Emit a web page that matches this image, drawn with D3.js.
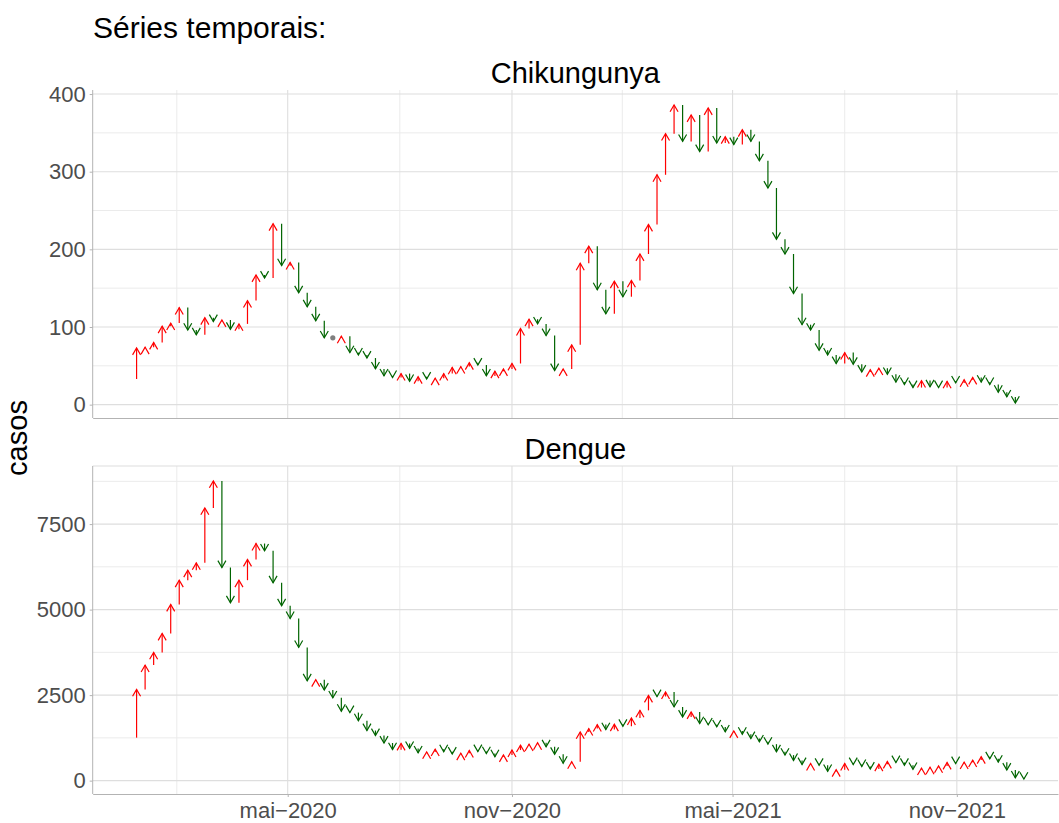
<!DOCTYPE html>
<meta charset="utf-8">
<style>
    body { margin:0; background:#fff; }
    svg text { font-family:'Liberation Sans', Arial, Helvetica, sans-serif; }
</style>
<body>
<script src="https://cdn.jsdelivr.net/npm/d3@7"></script>
<script>
// weekly case counts, first value is the week before the first arrow
var chikungunya = [33,
  73, 74, 80, 101, 105, 125, 96, 90, 112, 107,
  109, 97, 104, 134, 167, 163, 233, 179, 183, 144,
  126, 108, 86, 86, 88, 67, 64, 60, 46, 37,
  35, 40, 30, 36, 33, 34, 40, 48, 49, 54,
  51, 37, 43, 46, 53, 98, 110, 104, 89, 44,
  46, 77, 182, 204, 148, 117, 159, 139, 160, 194,
  232, 296, 349, 386, 339, 373, 326, 382, 337, 345,
  335, 354, 339, 314, 279, 213, 194, 143, 103, 96,
  70, 64, 53, 67, 52, 42, 45, 47, 39, 29,
  26, 22, 31, 23, 22, 30, 28, 32, 35, 29,
  26, 16, 10, 2];

var dengue = [1256,
  2667, 3378, 3748, 4303, 5150, 5860, 6152, 6367, 7973, 8762,
  6230, 5199, 5860, 6464, 6931, 6717, 5783, 5111, 4741, 3894,
  2920, 2950, 2648, 2420, 2030, 1990, 1752, 1465, 1320, 1100,
  905, 1086, 942, 810, 840, 920, 846, 779, 800, 880,
  850, 790, 700, 750, 894, 1038, 1067, 1106, 990, 769,
  510, 550, 1424, 1521, 1638, 1492, 1650, 1590, 1830, 2054,
  2490, 2460, 2590, 2155, 1860, 2006, 1667, 1630, 1570, 1424,
  1453, 1357, 1230, 1134, 1066, 843, 746, 590, 470, 500,
  450, 270, 320, 500, 470, 415, 340, 480, 560, 530,
  450, 330, 365, 390, 430, 530, 500, 540, 600, 700,
  640, 540, 310, 80, 45];

var firstWeek = Date.UTC(2019, 11, 22);   // week of the leading value
var xTickDates = [Date.UTC(2020,4,1), Date.UTC(2020,10,1), Date.UTC(2021,4,1), Date.UTC(2021,10,1)];
var xTickLabels = ["mai\u22122020", "nov\u22122020", "mai\u22122021", "nov\u22122021"];
var chikTicks = [0, 100, 200, 300, 400];
var chikMinor = [50, 150, 250, 350];
var dengTicks = [0, 2500, 5000, 7500];
var dengMinor = [1250, 3750, 6250, 8750];

var width = 1059, height = 823;
var left = 92.7, right = 1058;
var day = 864e5;

var svg = d3.select("body").append("svg")
    .attr("width", width)
    .attr("height", height);

var x = d3.scaleUtc()
    .domain([new Date(Date.UTC(2019,10,23)), new Date(Date.UTC(2022,0,23))])
    .range([left, right]);

// minor breaks halfway between the major ones
var allMajor = [Date.UTC(2019,10,1)].concat(xTickDates, [Date.UTC(2022,4,1)]);
var xMinor = d3.pairs(allMajor).map(function(p) { return (p[0] + p[1]) / 2; })
    .filter(function(t) { var px = x(new Date(t)); return px > left && px < right; });

svg.append("text")
    .attr("x", 93).attr("y", 38)
    .style("font-size", "30px").style("fill", "#000")
    .text("Séries temporais:");

svg.append("text")
    .attr("transform", "translate(27,438) rotate(-90)")
    .attr("text-anchor", "middle")
    .style("font-size", "29px").style("fill", "#000")
    .text("casos");

var panels = [
  {name: "Chikungunya", values: chikungunya, top: 90, bottom: 418, ticks: chikTicks, minor: chikMinor, xAxis: false},
  {name: "Dengue", values: dengue, top: 466, bottom: 794, ticks: dengTicks, minor: dengMinor, xAxis: true}
];

panels.forEach(function(p) {
    var ext = d3.extent(p.values);
    var pad = (ext[1] - ext[0]) * 0.05;
    var y = d3.scaleLinear()
        .domain([ext[0] - pad, ext[1] + pad])
        .range([p.bottom, p.top]);

    var g = svg.append("g");

    // grid
    g.selectAll(".hmin").data(p.minor.filter(function(v) { return y(v) > p.top; }))
      .enter().append("line")
        .attr("x1", left).attr("x2", right)
        .attr("y1", y).attr("y2", y)
        .attr("stroke", "#ebebeb").attr("stroke-width", 1);
    g.selectAll(".vmin").data(xMinor)
      .enter().append("line")
        .attr("x1", function(d) { return x(new Date(d)); })
        .attr("x2", function(d) { return x(new Date(d)); })
        .attr("y1", p.top).attr("y2", p.bottom)
        .attr("stroke", "#ebebeb").attr("stroke-width", 1);
    g.selectAll(".hmaj").data(p.ticks)
      .enter().append("line")
        .attr("x1", left).attr("x2", right)
        .attr("y1", y).attr("y2", y)
        .attr("stroke", "#dedede").attr("stroke-width", 1.1);
    g.selectAll(".vmaj").data(xTickDates)
      .enter().append("line")
        .attr("x1", function(d) { return x(new Date(d)); })
        .attr("x2", function(d) { return x(new Date(d)); })
        .attr("y1", p.top).attr("y2", p.bottom)
        .attr("stroke", "#dedede").attr("stroke-width", 1.1);

    if (p.xAxis) {
        g.append("line")
            .attr("x1", left).attr("x2", right)
            .attr("y1", p.top).attr("y2", p.top)
            .attr("stroke", "#dedede").attr("stroke-width", 1.1);
    }

    // strip title
    svg.append("text")
        .attr("x", (left + right) / 2).attr("y", p.top - 7)
        .attr("text-anchor", "middle")
        .style("font-size", "29px").style("fill", "#000")
        .text(p.name);

    // y axis
    var ya = g.append("g")
        .attr("transform", "translate(" + left + ",0)")
        .call(d3.axisLeft(y).tickValues(p.ticks).tickFormat(d3.format("d"))
            .tickSize(3).tickSizeOuter(0).tickPadding(4));
    ya.select(".domain").attr("stroke", "#b3b3b3").attr("d", "M0," + p.top + "V" + p.bottom);
    ya.selectAll(".tick line").attr("stroke", "#b3b3b3");
    ya.selectAll(".tick text").style("font-size", "22px").style("fill", "#4d4d4d")
        .attr("font-family", null);

    // x axis line (labels only on the bottom panel)
    var xa = g.append("g")
        .attr("transform", "translate(0," + p.bottom + ")")
        .call(d3.axisBottom(x).tickValues(xTickDates.map(function(d) { return new Date(d); }))
            .tickSize(p.xAxis ? 3 : 0).tickSizeOuter(0).tickPadding(5)
            .tickFormat(function(d, i) { return p.xAxis ? xTickLabels[i] : ""; }));
    xa.select(".domain").attr("stroke", "#b3b3b3");
    xa.selectAll(".tick line").attr("stroke", "#b3b3b3");
    xa.selectAll(".tick text").style("font-size", "22px").style("fill", "#4d4d4d")
        .attr("font-family", null);

    // week-to-week arrows
    var weeks = p.values.slice(1).map(function(v, i) {
        return {date: new Date(firstWeek + (i + 1) * 7 * day), from: p.values[i], to: v};
    });

    var moves = weeks.filter(function(d) { return d.to !== d.from; });
    var still = weeks.filter(function(d) { return d.to === d.from; });

    var arrows = g.selectAll(".arrow").data(moves).enter().append("g")
        .attr("stroke", function(d) { return d.to > d.from ? "#ff0000" : "#006400"; })
        .attr("stroke-width", 1.2)
        .attr("fill", "none");

    arrows.append("line")
        .attr("x1", function(d) { return x(d.date); })
        .attr("x2", function(d) { return x(d.date); })
        .attr("y1", function(d) { return y(d.from); })
        .attr("y2", function(d) { return y(d.to); });

    arrows.append("path")
        .attr("d", function(d) {
            var cx = x(d.date), cy = y(d.to);
            var dir = d.to > d.from ? 1 : -1;
            return "M" + (cx - 4) + "," + (cy + dir * 6.9) + "L" + cx + "," + cy + "L" + (cx + 4) + "," + (cy + dir * 6.9);
        });

    g.selectAll(".still").data(still).enter().append("circle")
        .attr("cx", function(d) { return x(d.date); })
        .attr("cy", function(d) { return y(d.to); })
        .attr("r", 2.6)
        .attr("fill", "#7f7f7f");
});
</script>
</body>
